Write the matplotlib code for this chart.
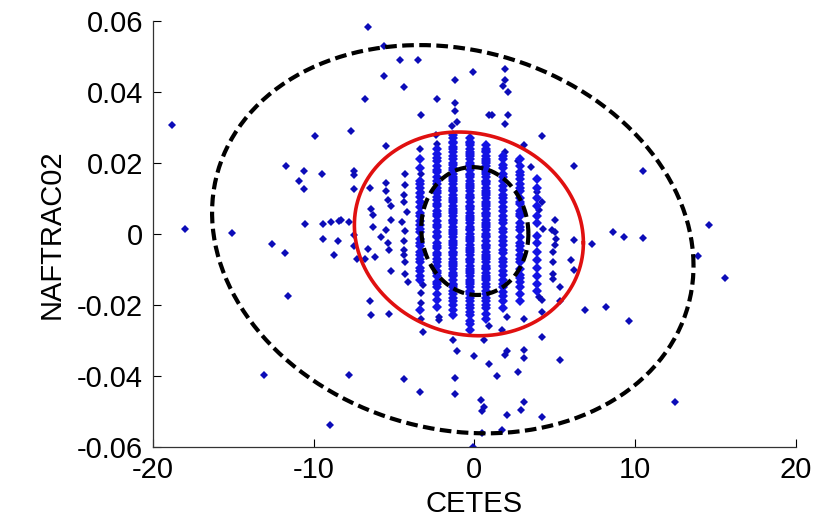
import numpy as np
import matplotlib
matplotlib.use("Agg")
import matplotlib.pyplot as plt

plt.rcParams["font.family"] = ["Liberation Sans", "DejaVu Sans"]

# Scattered points (CETES, NAFTRAC02 in thousandths)
sparse_x = [
    -6.6, -5.6, -4.6, -3.5, -5.6, -4.4, -6.8, -18.8, -7.7, -9.9, -5.5, -3.4,
    -11.7, -10.6, -9.5, -7.5, -7.5, -10.9, -10.6, -7.5, -6.5, -5.5, -5.5, -4.3,
    -4.4, -5.2, -6.4, -6.3, -5.2, -6.3, -5.5, -4.4, -4.2, -4.5, -8.3, -7.8,
    -18.0, -15.1, -10.5, -9.4, -8.9, -8.4, -12.6, -11.8, -9.4, -8.5, -8.7, -7.5,
    -7.3, -6.8, -7.5, -6.6, -6.2, -5.8, -5.3, -4.4, -4.4, -5.2, -4.3, -4.1,
    -11.6, -6.5, -6.4, -5.3, -13.1, -7.8, -4.4, -3.4, -9.0, -3.2,
    -1.3, -1.1, 0.0, 0.9, 2.0, 1.9, 3.1, 3.1, 2.7, 1.4, -1.2, -1.2, 0.4, 0.6,
    0.5, 2.0, 3.1, 2.9, 4.2, 1.7, 0.5, -0.1, 4.2, 0.9, 5.3, 0.6, 1.7, -2.2, -2.2,
    6.9, 8.2, 9.6, 12.5, 13.9, 15.6, 14.6, 8.6, 9.3, 10.5, 7.3, 6.2, 5.0, 5.1,
    6.0, 6.2, 4.9, 4.9, 5.3, 5.3, 4.2, 4.0, 4.2, 3.1, 2.0, 5.0, 4.8, 4.3, 4.2,
    4.0, 3.9, 6.2, 10.5, 3.5, 2.7, 1.9,
    -0.1, -1.2, 1.9, 1.9, 1.8, 2.1, -2.3, -1.2, -1.2, -3.3, 0.9, 2.1, -1.1, 1.9,
    4.2, 3.1, 1.1, -2.3, -3.3, -3.3, -3.3, -3.2, -3.3, -3.3, -3.3,
    -4.3, -4.3, -4.4, -4.3, -5.4, -5.4, 4.9, 4.9, 5.0, -2.4, -1.4,
]
sparse_y = [
    58.2, 53.0, 49.0, 49.0, 44.4, 41.5, 38.0, 30.6, 29.0, 27.5, 24.7, 24.0,
    19.0, 17.7, 16.9, 17.7, 16.5, 14.9, 12.7, 12.6, 12.9, 14.4, 12.1, 13.8,
    11.0, 7.9, 7.0, 5.3, 4.0, 2.0, 1.1, 9.0, 6.2, 3.4, 4.0, 3.4,
    1.5, 0.3, 2.9, 2.9, 3.4, 3.6, -2.9, -5.3, -1.5, -2.0, -5.9, -3.5,
    -7.0, -7.0, -0.3, -4.2, -6.5, -0.8, -4.5, -4.5, -5.9, -10.4, -11.2, -13.5,
    -17.5, -19.0, -23.0, -22.6, -39.7, -39.7, -41.0, -44.5, -54.0, -27.6,
    -30.0, -33.0, -34.3, -36.6, -33.0, -34.0, -32.6, -35.0, -39.0, -40.0, -40.5,
    -45.0, -46.7, -48.7, -50.0, -51.0, -47.5, -49.5, -51.5, -55.4, -56.2, -60.0,
    -29.0, -26.0, -35.5, -30.0, -27.0, -24.2, -23.5,
    -21.5, -20.5, -24.5, -47.5, -6.2, -12.4, 2.6, 0.6, -0.8, -1.1, -2.9, -1.7,
    0.6, -1.3, -7.4, -10.1, -11.2, -12.6, -14.9, -19.0, -18.7, -17.7, -22.0,
    -24.0, -23.3, -3.0, 1.1, 1.4, 9.0, 6.7, 11.8, 19.0, 17.7, 18.9, 20.5, 23.0,
    45.6, 43.4, 46.6, 43.4, 41.6, 40.0, 38.0, 36.9, 34.6, 33.4, 33.6, 33.4,
    31.5, 31.0, 27.5, 25.0, 33.5, 25.3, 16.9, 11.8, 9.0, -14.4, -16.7, -19.6,
    -24.0,
    17.0, 0.8, -2.0, -8.0, 9.5, -2.5, -5.0, -8.0, 4.0, 28.0, 30.5,
]

# Dense vertical columns in the centre (y in thousandths)
column_x = [-3.35, -2.3, -1.3, -0.3, 0.75, 1.8, 2.85, 3.9]
column_y = [
    [21, 18.5, 15, 14, 13, 11.5, 10.5, 9, 7.5, 6, 5, 3.5, 2.5, 1.5, 0.5, -1.5,
     -2.5, -3.5, -5, -6, -7, -8, -9.5, -10.5, -12, -13, -21.5],
    [24, 22.5, 21.5, 20.5, 19, 18, 17.5, 16, 15, 14, 13, 12, 11.5, 10.5, 9.5,
     8.5, 8, 6.5, 5.5, 5, 3.5, 2.5, 2, 0.5, -0.5, -1, -2.5, -3.5, -4, -5.5, -6,
     -7, -8, -9, -10.5, -11, -12, -13.5, -14, -15, -17, -18.5, -20.5],
    [28, 27, 26, 25.5, 24.5, 24, 23, 22, 21, 20, 19.5, 18.5, 18, 17, 16, 15.5,
     15, 14, 13, 12.5, 12, 11, 10, 9.5, 9, 8, 7, 6.5, 6, 5, 4, 3.5, 3, 2, 1,
     0.5, 0, -1, -2, -2.5, -3, -4, -5, -5.5, -6, -7, -8, -8.5, -9, -10, -11,
     -11.5, -12, -13, -14, -14.5, -15, -16, -17, -18, -19, -20, -21.5, -23],
    [27, 26, 25.5, 25, 24, 23, 22.5, 22, 21, 20, 19.5, 19, 18, 17, 16.5, 16,
     15, 14, 13.5, 13, 12, 11, 10.5, 10, 9, 8, 7.5, 7, 6, 5, 4.5, 4, 3, 2,
     1.5, 1, 0, -1, -1.5, -2, -3, -4, -4.5, -5, -6, -7, -7.5, -8, -9, -10,
     -10.5, -11, -12, -13, -13.5, -14, -15, -16, -16.5, -17, -18, -19, -20,
     -21, -22, -23, -24.5, -25.5, -27],
    [25, 24, 23.5, 23, 22, 21, 20.5, 20, 19, 18, 17.5, 17, 16, 15, 14.5, 14,
     13, 12, 11.5, 11, 10, 9, 8.5, 8, 7, 6, 5.5, 5, 4, 3, 2.5, 2, 1, 0, -0.5,
     -1, -2, -3, -3.5, -4, -5, -6, -6.5, -7, -8, -9, -9.5, -10, -11, -12,
     -12.5, -13, -14, -15, -16, -17, -18, -19, -20, -21, -22.5, -24],
    [22, 21, 19.5, 18.5, 17, 16, 15, 13.5, 12.5, 11, 10, 9, 7.5, 6.5, 5, 4,
     3, 1.5, 0.5, -1, -2, -3, -4.5, -5.5, -7, -8, -9, -10.5, -11.5, -13, -14,
     -15, -16.5, -17.5, -19, -21],
    [21, 19, 17.5, 16.5, 15.5, 14, 13, 12, 10, 9, 8.5, 6.5, 5.5, 5, 3, 2, 1,
     -1, -2.5, -3.5, -4.5, -6, -7, -8, -10, -11.5, -12.5, -13.5, -15, -17, -19],
    [15.5, 13, 10, 8, 5, 3, -0.5, -2.5, -5, -7.5, -9.5, -12, -14, -16],
]

# Confidence ellipses: centre x, centre y, x half-width, y term, y tilt term
ellipse_outer = (-1.34, -0.0015, 14.97, 0.0542, -0.0075)
ellipse_red = (-0.34, 0.0, 7.12, 0.0286, -0.0025)
ellipse_inner = (0.03, 0.0008, 3.33, 0.018, -0.0008)

x_ticks = [-20, -10, 0, 10, 20]
y_ticks = [-0.06, -0.04, -0.02, 0, 0.02, 0.04, 0.06]
y_tick_labels = ["-0.06", "-0.04", "-0.02", "0", "0.02", "0.04", "0.06"]


def ellipse_xy(params):
    cx, cy, a, b, c = params
    t = np.linspace(0, 2 * np.pi, 300)
    return cx + a * np.cos(t), cy + b * np.sin(t) + c * np.cos(t)


fig = plt.figure(figsize=(8.3, 5.25), dpi=100)
ax = fig.add_axes([0.184, 0.149, 0.775, 0.811])

ax.plot(sparse_x, np.array(sparse_y) * 1e-3, "D", color="#0c0cb8", ms=4.0, mew=0)
for cx_, ys in zip(column_x, column_y):
    ax.plot([cx_] * len(ys), np.array(ys) * 1e-3, "D", color="#1414e4", ms=5.0, mew=0)

ex, ey = ellipse_xy(ellipse_outer)
ax.plot(ex, ey, color="black", lw=3.0, dashes=(2.8, 1.3))
ex, ey = ellipse_xy(ellipse_red)
ax.plot(ex, ey, color="#e01010", lw=2.6)
ex, ey = ellipse_xy(ellipse_inner)
ax.plot(ex, ey, color="black", lw=3.0, dashes=(2.8, 1.3))

ax.set_xlim(-20, 20)
ax.set_ylim(-0.06, 0.06)
ax.set_xticks(x_ticks)
ax.set_xticklabels([str(v) for v in x_ticks])
ax.set_yticks(y_ticks)
ax.set_yticklabels(y_tick_labels)
ax.tick_params(direction="in", length=6, width=0.8, labelsize=21, pad=7)
for side in ["top", "right"]:
    ax.spines[side].set_visible(False)
for side in ["left", "bottom"]:
    ax.spines[side].set_color("#333333")
    ax.spines[side].set_linewidth(0.9)

ax.set_xlabel("CETES", fontsize=21, labelpad=4)
ax.set_ylabel("NAFTRAC02", fontsize=21, labelpad=8)

fig.savefig("out.png", dpi=100)
